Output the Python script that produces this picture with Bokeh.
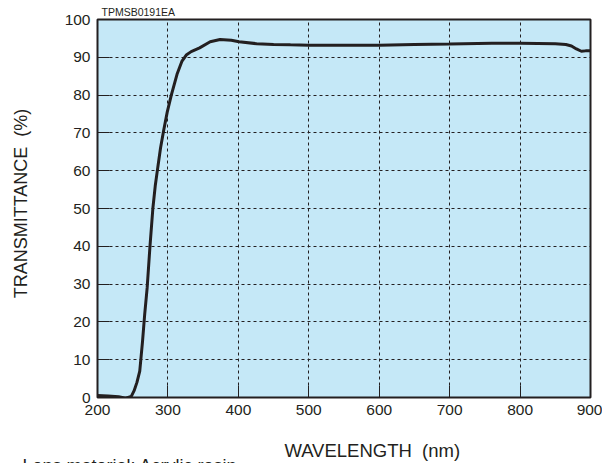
from bokeh.plotting import figure
from bokeh.models import Range1d, FixedTicker, Title
from bokeh.embed import file_html
from bokeh.resources import INLINE

wavelength = [200, 215, 230, 240, 248, 252, 256, 260, 264, 267, 270.5, 274.5, 278.6, 282, 285.7, 289.5, 293.8, 299,
              304.8, 312.9, 320, 326, 333, 345, 360, 374, 390, 401, 426, 450, 474, 500, 550, 600, 650, 700, 760,
              800, 850, 865, 873, 880, 887, 893, 900]
transmittance = [0.5, 0.4, 0.2, -0.2, 0.3, 1.8, 4.0, 7.0, 15.0, 22.0, 29.0, 40.0, 50.0, 56.0, 61.0, 66.0, 70.5, 75.5,
                 80.0, 85.5, 89.0, 90.6, 91.5, 92.5, 94.1, 94.7, 94.5, 94.1, 93.6, 93.4, 93.3, 93.2, 93.2, 93.2,
                 93.4, 93.5, 93.7, 93.7, 93.6, 93.4, 93.0, 92.2, 91.6, 91.7, 91.7]
x_ticks = [200, 300, 400, 500, 600, 700, 800, 900]
y_ticks = [0, 10, 20, 30, 40, 50, 60, 70, 80, 90, 100]

FONT = "Liberation Sans"
INK = "#231f20"
NB = "\u00a0"

p = figure(width=602, height=463, output_backend="svg", toolbar_location=None,
           x_range=Range1d(200, 900), y_range=Range1d(0, 100),
           min_border_left=97, min_border_right=12, min_border_top=19, min_border_bottom=66)
p.background_fill_color = "#c5e8f7"
p.border_fill_color = "white"
p.outline_line_color = INK
p.outline_line_width = 2

for ax, ticks in ((p.xaxis, x_ticks), (p.yaxis, y_ticks)):
    ax.ticker = FixedTicker(ticks=ticks)
    ax.axis_line_color = None
    ax.major_tick_in = 12
    ax.major_tick_out = 0
    ax.major_tick_line_color = INK
    ax.major_tick_line_width = 1
    ax.minor_tick_line_color = None
    ax.major_label_text_font = FONT
    ax.major_label_text_font_size = "15.5px"
    ax.major_label_text_color = INK
    ax.axis_label_text_font = FONT
    ax.axis_label_text_font_style = "normal"
    ax.axis_label_text_color = INK
p.xaxis.major_label_standoff = 7
p.yaxis.major_label_standoff = 7

p.yaxis.axis_label = NB + NB + "TRANSMITTANCE" + NB + NB + "(%)"
p.yaxis.axis_label_text_font_size = "18px"
p.yaxis.axis_label_standoff = 31

# x-axis title sits right of the frame centre in the reference: pad with leading no-break spaces
p.xaxis.axis_label = NB * 11 + "WAVELENGTH" + NB + NB + "(nm)"
p.xaxis.axis_label_text_font_size = "18.5px"
p.xaxis.axis_label_standoff = 22

p.grid.grid_line_color = INK
p.grid.grid_line_dash = "3 3"
p.grid.grid_line_width = 1

p.line(wavelength, transmittance, line_color=INK, line_width=3)

p.title = Title(text="TPMSB0191EA", align="left", offset=4, standoff=4,
                text_font=FONT, text_font_size="10.5px", text_font_style="normal", text_color=INK)
p.add_layout(Title(text="Lens material: Acrylic resin", align="left", offset=-75, standoff=-25,
                   text_font=FONT, text_font_size="18px", text_font_style="normal", text_color=INK), "below")

open("out.html", "w").write(file_html(p, INLINE))
